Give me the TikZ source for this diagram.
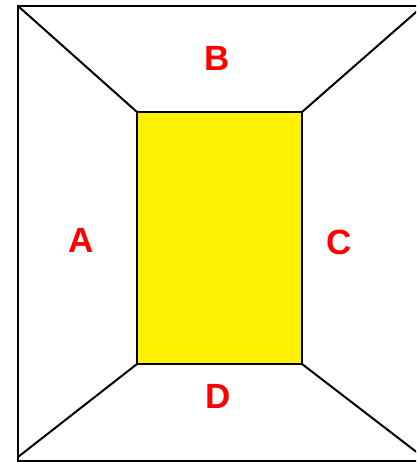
\documentclass[tikz,border=0pt]{standalone}
\usepackage{fontspec}
\setmainfont{Liberation Sans}
\begin{document}
\begin{tikzpicture}[x=1pt,y=-1pt,
  edge/.style={line width=2pt, black},
  lab/.style={text=red, font=\fontsize{35}{40}\selectfont\bfseries, inner sep=0pt, anchor=center}]
\useasboundingbox (0,0) rectangle (416,462);
\clip (0,0) rectangle (416,462);
\coordinate (o1) at (18,6);
\coordinate (o2) at (423,6);
\coordinate (o3) at (423,457);
\coordinate (o4) at (18,457);
\draw[edge] (18,6) rectangle (423,461);
\filldraw[edge, fill=yellow] (137,112) rectangle (302,364);
\coordinate (i1) at (137,112);
\coordinate (i2) at (302,112);
\coordinate (i3) at (302,364);
\coordinate (i4) at (137,364);
\draw[edge] (o1) -- (i1);
\draw[edge] (o2) -- (i2);
\draw[edge] (o3) -- (i3);
\draw[edge] (o4) -- (i4);
\node[lab] (B) at (217,58) {B};
\node[lab] (A) at (81,240) {A};
\node[lab] (C) at (339,242) {C};
\node[lab] (D) at (218,396) {D};
\end{tikzpicture}
\end{document}
